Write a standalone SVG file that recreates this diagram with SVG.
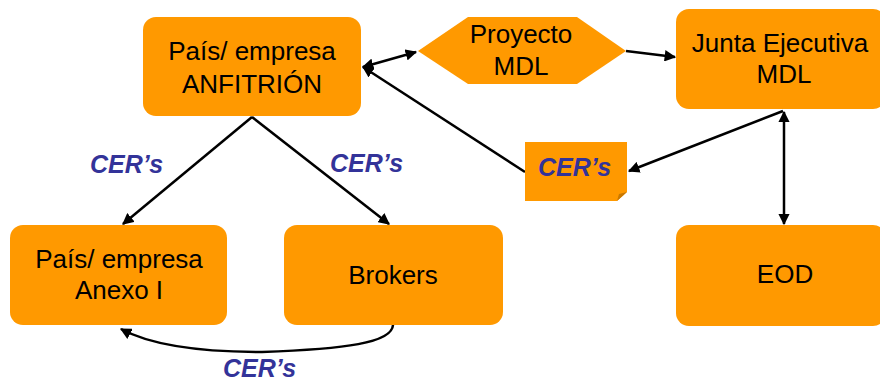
<svg xmlns="http://www.w3.org/2000/svg" width="880" height="381" viewBox="0 0 880 381">
  <style>
    .box { fill: #FF9900; }
    .lbl { font-family: "Liberation Sans", Arial, sans-serif; font-size: 26px; fill: #000; text-anchor: middle; }
    .cer { font-family: "Liberation Sans", Arial, sans-serif; font-size: 25px; font-weight: bold; font-style: italic; fill: #333399; }
    .wire { fill: none; stroke: #000; stroke-width: 2.5; }
  </style>
  <defs>
    <marker id="arrow" viewBox="0 0 10 10" refX="9" refY="5" markerWidth="4.6" markerHeight="4.6" orient="auto-start-reverse" markerUnits="strokeWidth">
      <path d="M0,0 L10,5 L0,10 z" fill="#000"/>
    </marker>
  </defs>

  <rect width="880" height="381" fill="#fff"/>

  <!-- connectors -->
  <g id="connectors">
    <line class="wire" x1="252" y1="117" x2="123" y2="224" marker-end="url(#arrow)"/>
    <line class="wire" x1="252" y1="117" x2="389" y2="224" marker-end="url(#arrow)"/>
    <path class="wire" d="M393,325 C392,343 345,349 262,352 C185,352 145,342 121,329" marker-end="url(#arrow)"/>
    <line class="wire" x1="363" y1="67" x2="416" y2="52" marker-start="url(#arrow)" marker-end="url(#arrow)"/>
    <line class="wire" x1="525" y1="172" x2="363" y2="67" marker-end="url(#arrow)"/>
    <line class="wire" x1="626" y1="51" x2="675" y2="57" marker-end="url(#arrow)"/>
    <line class="wire" x1="783" y1="111" x2="629" y2="171" marker-end="url(#arrow)"/>
    <line class="wire" x1="784" y1="112" x2="784" y2="224" marker-start="url(#arrow)" marker-end="url(#arrow)"/>
  </g>

  <g id="host">
    <rect class="box" x="143" y="17" width="218" height="99" rx="13"/>
    <text class="lbl" x="252" y="60">País/ empresa</text>
    <text class="lbl" x="252" y="93">ANFITRIÓN</text>
  </g>

  <g id="project">
    <polygon class="box" points="418,51 468,17 577,17 626,51 577,84 468,84"/>
    <text class="lbl" x="521" y="43">Proyecto</text>
    <text class="lbl" x="521" y="75">MDL</text>
  </g>

  <g id="board">
    <rect class="box" x="676" y="9" width="210" height="100" rx="13"/>
    <text class="lbl" x="780" y="52">Junta Ejecutiva</text>
    <text class="lbl" x="784" y="83">MDL</text>
  </g>

  <g id="note">
    <path class="box" d="M525,142 H627 V192 L617,201 H525 z"/>
    <path d="M617,201 L619,194 L627,192 z" fill="#C87800"/>
    <text class="cer" x="538" y="176">CER’s</text>
  </g>

  <g id="annex">
    <rect class="box" x="10" y="225" width="217" height="100" rx="13"/>
    <text class="lbl" x="119" y="268">País/ empresa</text>
    <text class="lbl" x="119" y="299">Anexo I</text>
  </g>

  <g id="brokers">
    <rect class="box" x="284" y="225" width="219" height="100" rx="13"/>
    <text class="lbl" x="393" y="284">Brokers</text>
  </g>

  <g id="eod">
    <rect class="box" x="676" y="225" width="210" height="101" rx="13"/>
    <text class="lbl" x="785" y="283">EOD</text>
  </g>

  <g id="labels">
    <text class="cer" x="90" y="173">CER’s</text>
    <text class="cer" x="330" y="172">CER’s</text>
    <text class="cer" x="223" y="377">CER’s</text>
  </g>
</svg>
